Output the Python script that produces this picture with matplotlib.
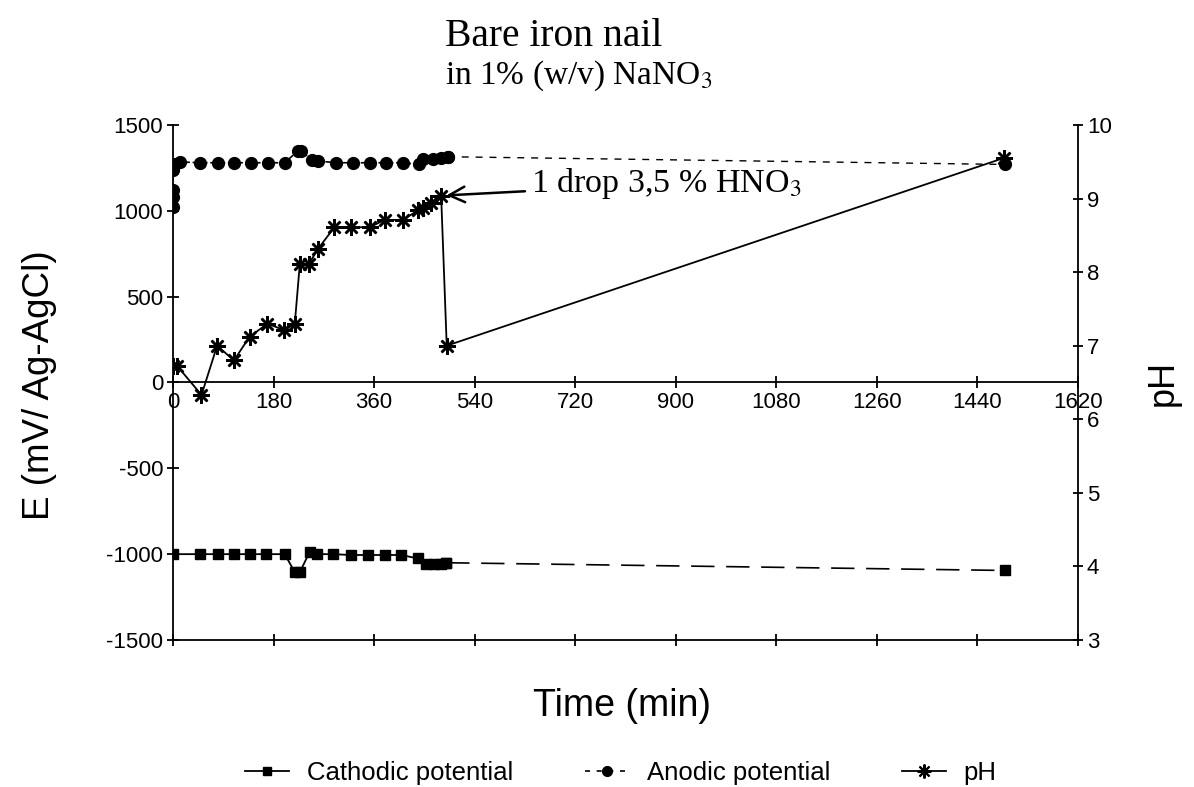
import numpy as np
import matplotlib.pyplot as plt

plt.rcParams["mathtext.fontset"] = "stix"
plt.rcParams["axes.unicode_minus"] = False

# time (min) and readings
t_cath = [0, 48, 81, 110, 137, 167, 200, 218, 227, 245, 257, 286, 319, 349, 379, 409,
          438, 453, 468, 480, 489]
e_cath = [-1000, -1000, -1000, -1000, -1000, -1000, -1000, -1105, -1105, -985, -1000,
          -1000, -1005, -1005, -1005, -1005, -1025, -1055, -1060, -1060, -1050]
t_cath_end = [489, 1489]
e_cath_end = [-1050, -1095]

t_anod = [0, 0, 0, 0, 4, 12, 48, 81, 110, 140, 170, 200, 224, 230, 248, 260, 292, 322,
          352, 382, 412, 441, 447, 465, 480, 492]
e_anod = [1020, 1080, 1120, 1240, 1275, 1285, 1280, 1280, 1280, 1280, 1280, 1280, 1350,
          1350, 1295, 1290, 1280, 1280, 1280, 1280, 1280, 1270, 1300, 1300, 1310, 1315]
t_anod_end = [492, 1489]
e_anod_end = [1315, 1270]

t_ph = [0, 8, 51, 79, 109, 137, 169, 199, 218, 227, 243, 260, 289, 319, 352, 379, 411,
        439, 447, 462, 480, 490, 1487]
ph = [6.72, 6.72, 6.33, 7.0, 6.8, 7.12, 7.3, 7.21, 7.3, 8.11, 8.11, 8.32, 8.61, 8.61,
      8.61, 8.71, 8.71, 8.84, 8.87, 8.94, 9.04, 7.0, 9.55]

xticks = np.arange(0, 1621, 180)
eticks = np.arange(-1500, 1501, 500)
phticks = np.arange(3, 11, 1)

sans = "Liberation Sans"
serif = "Liberation Serif"

fig = plt.figure(figsize=(11.94, 7.87), dpi=100)
ax = fig.add_axes([0.1449, 0.1868, 0.9028 - 0.1449, 0.8412 - 0.1868])
ax2 = ax.twinx()

ax.set_xlim(0, 1620)
ax.set_ylim(-1500, 1500)
ax2.set_ylim(3, 10)

# potentials
ax.plot(t_cath, e_cath, color="black", lw=1.3, marker="s", ms=7)
ax.plot(t_cath_end, e_cath_end, color="black", lw=1.2, dashes=(14, 7), marker="s", ms=7)
ax.plot(t_anod, e_anod, color="black", lw=1.2, ls="--", marker="o", ms=8.5)
ax.plot(t_anod_end, e_anod_end, color="black", lw=1.0, dashes=(5, 5), marker="o", ms=8.5)

# pH
ax2.plot(t_ph, ph, color="black", lw=1.3, marker=(8, 2, 0), ms=12, mew=1.8)

# axes styling
ax.spines["bottom"].set_position(("data", 0))
ax.spines["top"].set_position(("data", -1500))
for s in ["left", "right", "top", "bottom"]:
    ax.spines[s].set_linewidth(1.3)
ax.spines["right"].set_visible(False)
for s in ["left", "top", "bottom"]:
    ax2.spines[s].set_visible(False)
ax2.spines["right"].set_linewidth(1.3)

ax.set_xticks(xticks)
ax.set_yticks(eticks)
ax2.set_yticks(phticks)
ax.xaxis.set_ticks_position("both")
ax.tick_params(axis="x", direction="inout", length=9, width=1.3, labeltop=False,
               labelsize=16, pad=2)
ax.tick_params(axis="y", direction="inout", length=8, width=1.3, labelsize=16, pad=3)
ax2.tick_params(axis="y", direction="inout", length=7, width=1.3, labelsize=16, pad=3)
for lab in ax.get_xticklabels() + ax.get_yticklabels() + ax2.get_yticklabels():
    lab.set_fontfamily(sans)

# labels
fig.text(0.521, 1 - 706 / 787, "Time (min)", fontsize=27, family=sans, ha="center", va="center")
fig.text(40 / 1194, 1 - 385 / 787, "E (mV/ Ag-AgCl)", fontsize=26.5, family=sans,
         rotation=90, ha="center", va="center")
fig.text(1163 / 1194, 1 - 383 / 787, "pH", fontsize=26, family=sans,
         rotation=90, ha="center", va="center")

# title
fig.text(445 / 1194, 1 - 46 / 787, "Bare iron nail", fontsize=28.5, family=serif,
         ha="left", va="baseline")
fig.text(445 / 1194, 1 - 84 / 787, r"in 1% (w/v) NaNO$_3$", fontsize=24, family=serif,
         ha="left", va="baseline")

# annotation for acid drop
ax2.annotate(r"1 drop 3,5 % HNO$_3$", xy=(t_ph[20] + 2, ph[20]), xytext=(640, 9.2),
             fontsize=24.5, family=serif, va="center", ha="left",
             arrowprops=dict(arrowstyle="->", color="black", lw=1.8,
                             mutation_scale=28, shrinkA=2, shrinkB=3))

# legend
h1, = ax.plot([], [], color="black", lw=1.3, marker="s", ms=6)
h2, = ax.plot([], [], color="black", lw=1.2, dashes=(3, 4), marker="o", ms=7)
h3, = ax.plot([], [], color="black", lw=1.3, marker=(8, 2, 0), ms=10, mew=1.5)
fig.legend([h1, h2, h3], ["Cathodic potential", "Anodic potential", "pH"],
           loc="center", bbox_to_anchor=(0.52, 1 - 773 / 787), ncol=3, frameon=False,
           prop={"family": sans, "size": 18.5}, handlelength=1.7, columnspacing=2.8,
           handletextpad=0.7)

fig.savefig("out.png", dpi=100)
